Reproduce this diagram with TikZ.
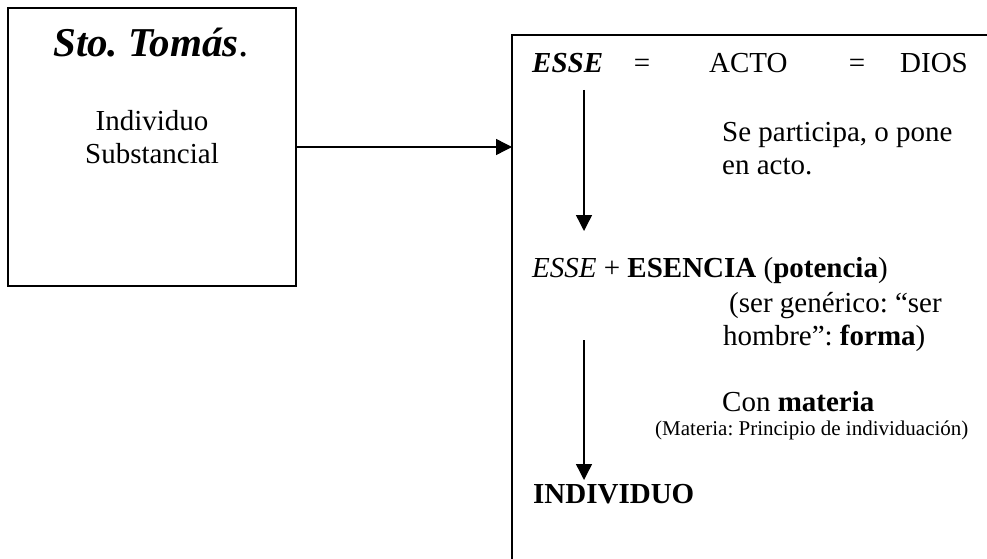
\documentclass[tikz,border=0pt]{standalone}
\usepackage{fontspec}
\setmainfont{Liberation Serif}
\usetikzlibrary{arrows.meta}
\frenchspacing
\tikzset{
  frame/.style={draw=black, line width=2pt, rectangle, inner sep=0pt},
  body/.style={inner sep=0pt, font=\fontsize{29}{32}\selectfont},
  small/.style={inner sep=0pt, font=\fontsize{21}{24}\selectfont},
  title/.style={inner sep=0pt, font=\fontsize{41}{48}\selectfont},
  conn/.style={draw=black, line width=1.4pt, -{Triangle[length=16pt,width=16pt]}, shorten >=-1pt}
}
\begin{document}
\begin{tikzpicture}[x=1pt,y=-1pt]
\useasboundingbox[fill=white] (0,0) rectangle (987,559);
% boxes
\node[frame, minimum width=288pt, minimum height=278pt] (tomas) at (152,147) {};
\node[frame, minimum width=520pt, minimum height=560pt] (right) at (772,315) {};
% left box text
\node[title, anchor=base] (ttl) at (151,57) {\frenchspacing\textbf{\textit{Sto. Tomás}}.};
\node[body, anchor=base] (ind) at (152,131) {Individuo};
\node[body, anchor=base] (sub) at (152,163) {Substancial};
% connector between boxes
\draw[conn] (tomas.east |- 0,147) -- (right.west |- 0,147);
% right box text
\node[body, anchor=base west] (esse) at (532,73) {\textbf{\textit{ESSE}}};
\node[body, anchor=base] (eq1) at (642,73) {=};
\node[body, anchor=base west] (acto) at (709,73) {ACTO};
\node[body, anchor=base] (eq2) at (857,73) {=};
\node[body, anchor=base west] (dios) at (900,73) {DIOS};
\node[body, anchor=base west] (sp1) at (722,142) {Se participa, o pone};
\node[body, anchor=base west] (sp2) at (722,174) {en acto.};
\node[body, anchor=base west] (esen) at (532,277) {\textit{ESSE} + \textbf{ESENCIA} (\textbf{potencia})};
\node[body, anchor=base west] (gen1) at (729,312) {\frenchspacing(ser genérico: “ser};
\node[body, anchor=base west] (gen2) at (723,345) {\frenchspacing hombre”: \textbf{forma})};
\node[body, anchor=base west] (con) at (722,411) {Con \textbf{materia}};
\node[small, anchor=base west] (mat) at (655,435) {\frenchspacing(Materia: Principio de individuación)};
\node[body, anchor=base west] (indiv) at (533,503) {\textbf{INDIVIDUO}};
% vertical arrows
\coordinate (a1s) at (584,90);
\coordinate (a1e) at (584,230);
\coordinate (a2s) at (584,340);
\coordinate (a2e) at (584,479);
\draw[conn] (a1s) -- (a1e);
\draw[conn] (a2s) -- (a2e);
\end{tikzpicture}
\end{document}
